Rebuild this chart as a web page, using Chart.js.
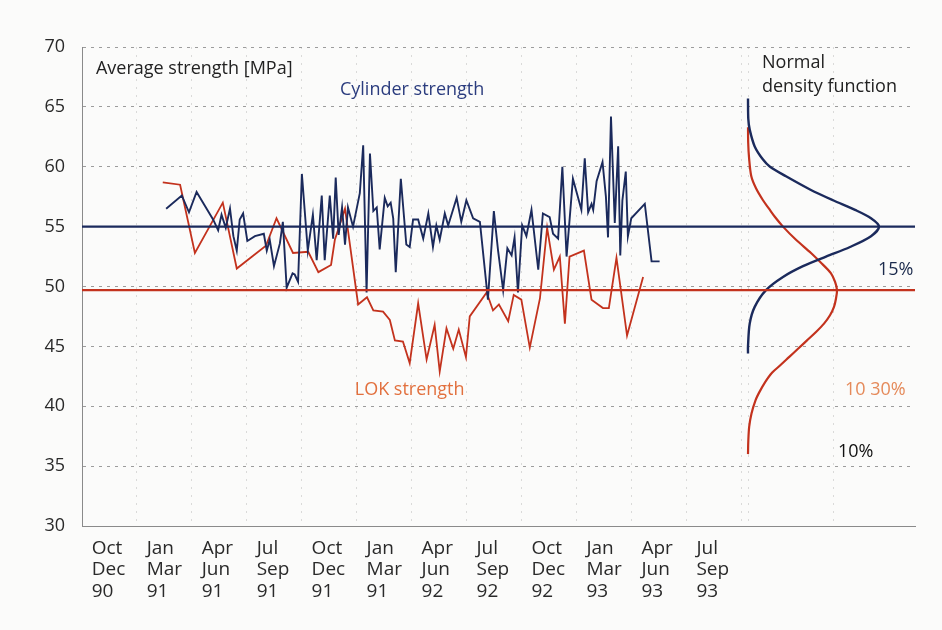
<!DOCTYPE html>
<html>
<head>
<meta charset="utf-8">
<script src="https://cdn.jsdelivr.net/npm/chart.js@4/dist/chart.umd.min.js"></script>
<style>
  html, body { margin: 0; padding: 0; background: #fbfbfa; }
  #wrap { width: 942px; height: 630px; }
</style>
</head>
<body>
<div id="wrap"><canvas id="chart"></canvas></div>
<script>
// quarter labels along the time axis (as printed, incl. the repeated "Jan Mar 91")
const qFirst = ["Oct", "Jan", "Apr", "Jul", "Oct", "Jan", "Apr", "Jul", "Oct", "Jan", "Apr", "Jul"];
const qLast = ["Dec", "Mar", "Jun", "Sep", "Dec", "Mar", "Jun", "Sep", "Dec", "Mar", "Jun", "Sep"];
const qYear = ["90", "91", "91", "91", "91", "91", "92", "92", "92", "93", "93", "93"];
const yTicks = [30, 35, 40, 45, 50, 55, 60, 65, 70];

// cylinder strength, weeks since start of Oct 1990
const cylWeek = [19.9, 23.6, 25.3, 27.1, 31.0, 32.2, 33.0, 34.0, 35.0, 35.8, 36.6, 37.3, 38.1, 39.1, 40.9,
  43.0, 43.7, 44.4, 45.4, 46.8, 47.5, 48.4, 49.8, 50.3, 51.1, 52.0, 53.4, 54.6, 55.5, 56.7,
  57.4, 58.6, 59.4, 60.0, 60.7, 61.5, 62.2, 62.9, 64.1, 65.7, 66.5, 67.3, 68.1, 68.9, 69.7,
  70.4, 71.6, 72.3, 73.0, 73.6, 74.2, 75.4, 76.7, 77.5, 78.3, 79.5, 80.7, 81.9, 83.0, 83.8,
  84.6, 85.8, 86.6, 88.6, 89.7, 90.9, 92.5, 94.1, 96.0, 97.4, 98.4, 99.6, 100.6, 101.6, 102.3,
  103.1, 104.1, 105.1, 106.3, 107.9, 109.0, 110.6, 111.4, 112.6, 113.6, 114.6, 116.1, 118.1, 118.9, 119.7,
  120.5, 120.9, 121.7, 123.1, 123.9, 124.4, 125.1, 126.0, 126.8, 127.3, 127.8, 128.6, 129.1, 129.9, 133.1,
  134.7, 136.6];
const cylValue = [56.5, 57.6, 56.2, 57.9, 55.6, 54.7, 56.0, 54.9, 56.5, 54.2, 53.0, 55.6, 56.1, 53.8, 54.2,
  54.4, 53.0, 53.9, 51.7, 53.6, 55.4, 49.9, 51.1, 51.0, 50.4, 59.4, 53.0, 56.0, 52.2, 57.6,
  52.2, 57.6, 54.0, 59.1, 54.3, 56.6, 53.5, 56.6, 55.0, 57.8, 61.8, 49.5, 61.1, 56.3, 56.6,
  53.1, 57.4, 56.7, 57.0, 55.7, 51.2, 59.0, 53.5, 53.3, 55.6, 55.6, 54.0, 56.1, 53.3, 55.1,
  53.9, 56.1, 55.1, 57.4, 55.4, 57.2, 55.7, 55.4, 48.9, 56.3, 53.0, 49.7, 53.2, 52.6, 54.1,
  49.5, 55.1, 54.2, 56.4, 51.4, 56.1, 55.8, 54.4, 54.0, 60.0, 52.5, 59.0, 56.4, 60.7, 56.2,
  56.9, 56.4, 58.8, 60.4, 57.5, 54.1, 64.2, 55.3, 61.7, 52.6, 57.2, 59.6, 54.2, 55.7, 56.9,
  52.1, 52.1];

// LOK strength
const lokWeek = [19.1, 23.2, 26.7, 33.3, 36.6, 43.5, 46.0, 49.9, 53.5, 55.9, 58.9, 59.8, 62.2, 65.3, 67.4,
  68.9, 71.2, 72.8, 74.0, 75.9, 77.5, 79.5, 81.5, 83.4, 84.6, 86.2, 87.8, 89.1, 90.8, 91.7,
  95.7, 97.2, 98.6, 100.8, 102.1, 103.9, 105.9, 108.3, 110.0, 111.6, 113.0, 114.2, 115.3, 118.7, 120.5,
  123.2, 124.6, 126.4, 128.9, 132.7];
const lokValue = [58.7, 58.5, 52.8, 57.0, 51.5, 53.4, 55.7, 52.8, 52.9, 51.2, 51.8, 53.9, 56.5, 48.5, 49.1,
  48.0, 47.9, 47.2, 45.5, 45.4, 43.6, 48.6, 43.9, 46.8, 42.9, 46.5, 44.8, 46.4, 44.1, 47.5,
  49.5, 48.0, 48.5, 47.1, 49.3, 48.9, 44.9, 49.0, 54.9, 51.4, 52.5, 46.9, 52.5, 53.0, 48.9,
  48.2, 48.2, 52.4, 45.9, 50.8];

const cylMean = 55.0;
const lokMean = 49.7;

// normal density curves (relative frequency)
const cylDensLevel = [65.7, 64.0, 63.1, 61.7, 60.6, 60.0, 59.2, 58.1, 57.2, 56.4, 55.7, 55.0,
  54.2, 53.3, 52.5, 51.7, 50.8, 49.7, 48.3, 46.9, 45.0, 44.4];
const cylDens = [0, 0.03, 0.17, 0.67, 1.5, 2.2, 3.8, 6.2, 8.5, 10.7, 12.3, 13.1,
  12.3, 10.2, 7.8, 5.5, 3.5, 1.8, 0.67, 0.17, 0, 0];
const lokDensLevel = [63.3, 62.0, 60.8, 59.2, 58.2, 57.2, 56.5, 55.8, 55.0, 53.9, 52.8, 51.9, 51.1, 50.4,
  49.7, 49.0, 48.3, 47.6, 46.9, 46.2, 45.5, 44.8, 44.1, 43.4, 42.8, 42.0, 41.2, 40.5, 39.4, 38.3, 37.1, 36.0];
const lokDens = [0, 0.02, 0.1, 0.33, 0.8, 1.5, 2.1, 2.7, 3.5, 4.8, 6.3, 7.4, 8.3, 8.7,
  8.9, 8.8, 8.6, 8.2, 7.6, 6.8, 5.9, 5.0, 4.1, 3.2, 2.4, 1.7, 1.15, 0.75, 0.35, 0.12, 0.03, 0];

const NAVY = "#1b2a5c";
const RED = "#c3321d";
const X_MAX = 197;

const labelWeeks = qFirst.map((q, i) => i * 13 + 2.3);
const quarterBounds = qFirst.map((q, i) => (i + 1) * 13);

const pairs = (xs, ys) => xs.map((x, i) => ({ x: x, y: ys[i] }));
const dens = (lv, d) => lv.map((y, i) => ({ x: d[i], y: y }));

const notes = [
  { text: "Average strength [MPa]", axis: "x", x: 3.3, y: 68.2, color: "#222" },
  { text: "Cylinder strength", axis: "x", x: 61, y: 66.4, color: "#2b3c7e" },
  { text: "LOK strength", axis: "x", x: 64.5, y: 41.4, color: "#e2703e" },
  { text: "Normal", axis: "xd", x: 1.4, y: 68.7, color: "#222" },
  { text: "density function", axis: "xd", x: 1.4, y: 66.7, color: "#222" },
  { text: "15%", axis: "xd", x: 13.0, y: 51.4, color: "#1b2a4c" },
  { text: "10 30%", axis: "xd", x: 9.7, y: 41.4, color: "#e58a5a" },
  { text: "10%", axis: "xd", x: 9.0, y: 36.2, color: "#111" },
];

const notePlugin = {
  id: "notes",
  afterDatasetsDraw(chart) {
    const ctx = chart.ctx;
    ctx.save();
    ctx.font = "18px 'Open Sans', sans-serif";
    ctx.textAlign = "left";
    ctx.textBaseline = "middle";
    notes.forEach((n) => {
      ctx.fillStyle = n.color;
      ctx.fillText(n.text, chart.scales[n.axis].getPixelForValue(n.x), chart.scales.y.getPixelForValue(n.y));
    });
    ctx.restore();
  },
};

Chart.defaults.font.family = "'Open Sans', sans-serif";

const line = (data, color, width, order, extra) => Object.assign({
  data: data,
  borderColor: color,
  borderWidth: width,
  pointRadius: 0,
  tension: 0,
  fill: false,
  order: order,
}, extra || {});

new Chart(document.getElementById("chart"), {
  type: "line",
  data: {
    datasets: [
      line([{ x: 0, y: cylMean }, { x: X_MAX, y: cylMean }], NAVY, 2.2, 0),
      line([{ x: 0, y: lokMean }, { x: X_MAX, y: lokMean }], RED, 2.2, 1),
      line(pairs(cylWeek, cylValue), NAVY, 1.9, 2),
      line(pairs(lokWeek, lokValue), RED, 1.8, 3),
      line(dens(cylDensLevel, cylDens), NAVY, 2.4, 4, { xAxisID: "xd", tension: 0.3 }),
      line(dens(lokDensLevel, lokDens), RED, 2.2, 5, { xAxisID: "xd", tension: 0.3 }),
    ],
  },
  options: {
    responsive: true,
    maintainAspectRatio: false,
    animation: false,
    devicePixelRatio: 1,
    layout: { padding: { top: 47, right: 27, left: 0, bottom: 0 } },
    plugins: { legend: { display: false }, tooltip: { enabled: false } },
    scales: {
      x: {
        type: "linear",
        position: "bottom",
        min: 0,
        max: X_MAX,
        grid: { display: false },
        border: { display: true, color: "#8a8a8a", width: 1 },
        afterBuildTicks: (s) => { s.ticks = labelWeeks.map((v) => ({ value: v })); },
        afterFit: (s) => { s.height = 104; },
        ticks: {
          autoSkip: false,
          maxRotation: 0,
          align: "start",
          padding: 4,
          color: "#2a2a2a",
          font: { size: 19, lineHeight: 1.12 },
          callback: (v, i) => [qFirst[i], qLast[i], qYear[i]],
        },
      },
      xg: {
        type: "linear",
        position: "bottom",
        min: 0,
        max: X_MAX,
        afterBuildTicks: (s) => { s.ticks = quarterBounds.map((v) => ({ value: v })); },
        afterFit: (s) => { s.height = 0; },
        ticks: { display: false },
        grid: { color: "rgba(0,0,0,0.13)", drawTicks: false },
        border: { display: false, dash: [2, 6] },
      },
      xd: {
        type: "linear",
        position: "bottom",
        min: -66.6,
        max: 16.7,
        afterBuildTicks: (s) => { s.ticks = [{ value: 0 }, { value: 8.5 }]; },
        afterFit: (s) => { s.height = 0; },
        ticks: { display: false },
        grid: { color: "rgba(0,0,0,0.13)", drawTicks: false },
        border: { display: false, dash: [2, 6] },
      },
      y: {
        min: 30,
        max: 70,
        afterBuildTicks: (s) => { s.ticks = yTicks.map((v) => ({ value: v })); },
        afterFit: (s) => { s.width = 82; },
        grid: {
          color: (c) => (c.tick && c.tick.value === 30 ? "rgba(0,0,0,0)" : "#9c9c9c"),
          drawTicks: false,
        },
        border: { display: true, color: "#8a8a8a", width: 1, dash: [3, 5] },
        ticks: { padding: 17, color: "#2a2a2a", font: { size: 18 } },
      },
    },
  },
  plugins: [notePlugin],
});
</script>
</body>
</html>
